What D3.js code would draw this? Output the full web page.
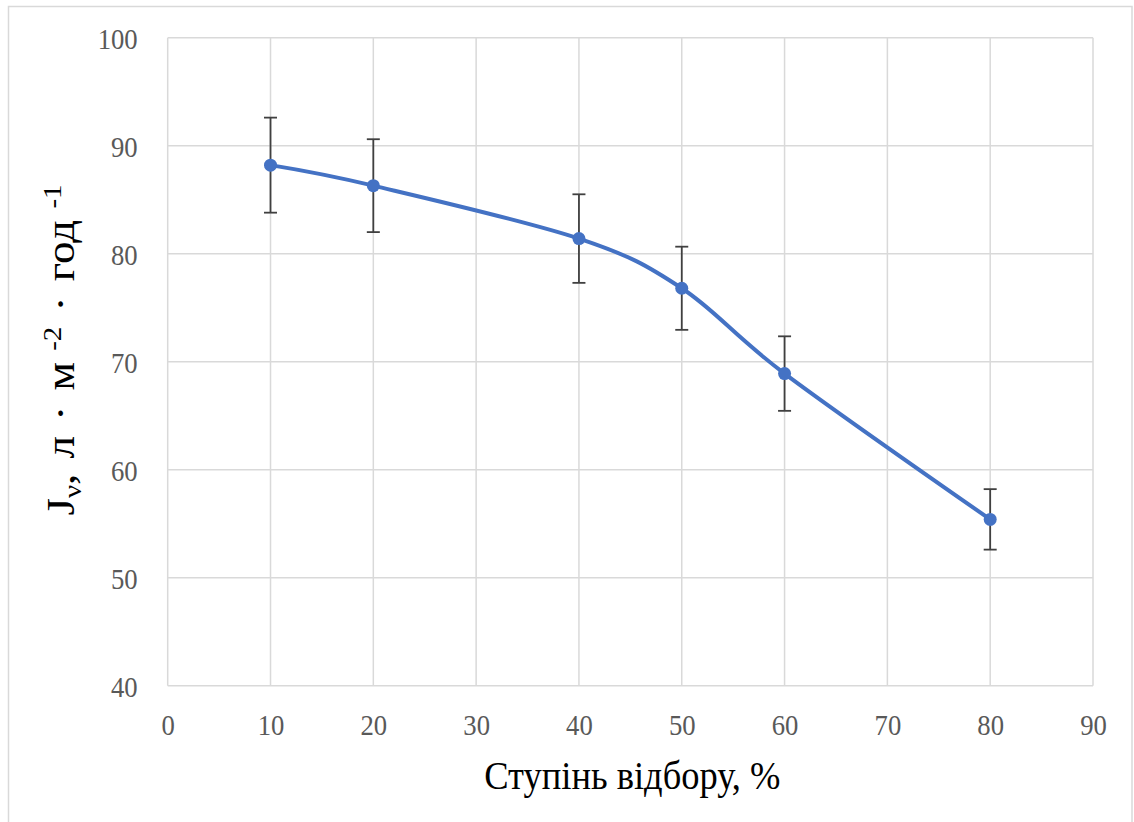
<!DOCTYPE html>
<html>
<head>
<meta charset="utf-8">
<script src="https://cdn.jsdelivr.net/npm/d3@7"></script>
<style>
  html, body { margin: 0; padding: 0; background: #fff; }
  svg { display: block; }
  text { font-family: "Liberation Serif", "Times New Roman", serif; }
</style>
</head>
<body>
<svg id="chart" width="1134" height="822"></svg>
<script>
// ---- data ----
const xValues = [10, 20, 40, 50, 60, 80];
const yValues = [88.2, 86.3, 81.4, 76.8, 68.9, 55.4];
const yErrors = [4.4, 4.3, 4.1, 3.85, 3.45, 2.8];
const xTicks = [0, 10, 20, 30, 40, 50, 60, 70, 80, 90];
const yTicks = [40, 50, 60, 70, 80, 90, 100];
const xTitle = "Ступінь відбору, %";

// ---- layout ----
const plot = { left: 167.7, right: 1093, top: 37.7, bottom: 685.7 };
const svg = d3.select("#chart");
const sx = 0.89; // horizontal text squeeze seen in reference

// outer chart border
svg.append("rect")
  .attr("x", 8.5).attr("y", 6.5).attr("width", 1123.5).attr("height", 840)
  .attr("fill", "none").attr("stroke", "#d9d9d9").attr("stroke-width", 1.5);

const x = d3.scaleLinear().domain([0, 90]).range([plot.left, plot.right]);
const y = d3.scaleLinear().domain([40, 100]).range([plot.bottom, plot.top]);

// gridlines
const grid = svg.append("g");
grid.selectAll("line.v").data(xTicks).join("line")
  .attr("x1", d => x(d)).attr("x2", d => x(d))
  .attr("y1", plot.top).attr("y2", plot.bottom)
  .attr("stroke", "#d9d9d9").attr("stroke-width", 1.5);
grid.selectAll("line.h").data(yTicks).join("line")
  .attr("x1", plot.left).attr("x2", plot.right)
  .attr("y1", d => y(d)).attr("y2", d => y(d))
  .attr("stroke", "#d9d9d9").attr("stroke-width", 1.5);

// axes (labels only)
const xAxis = d3.axisBottom(x).tickValues(xTicks).tickSize(0).tickPadding(0);
const gx = svg.append("g").attr("transform", `translate(0,${plot.bottom})`).call(xAxis);
gx.select(".domain").remove();
gx.selectAll("text")
  .attr("y", null).attr("dy", null)
  .attr("text-anchor", "middle")
  .attr("transform", `translate(0,49) scale(${sx},1)`)
  .attr("x", 0)
  .style("font-size", "30px").style("fill", "#595959")
  .style("font-family", '"Liberation Serif", "Times New Roman", serif');

const yAxis = d3.axisLeft(y).tickValues(yTicks).tickSize(0).tickPadding(0);
const gy = svg.append("g").attr("transform", `translate(${plot.left},0)`).call(yAxis);
gy.select(".domain").remove();
gy.selectAll("text")
  .attr("x", null).attr("dy", null).attr("y", null)
  .attr("text-anchor", "end")
  .attr("transform", `translate(-30,10.3) scale(${sx},1)`)
  .style("font-size", "30px").style("fill", "#595959")
  .style("font-family", '"Liberation Serif", "Times New Roman", serif');

// axis titles
svg.append("text")
  .attr("transform", `translate(${(plot.left + plot.right) / 2 + 2},789) scale(${sx},1)`)
  .attr("text-anchor", "middle")
  .style("font-size", "41px").style("fill", "#000")
  .text(xTitle);

const yt = svg.append("text")
  .attr("transform", `translate(74,350) rotate(-90) scale(1,${sx})`)
  .attr("text-anchor", "middle")
  .style("font-size", "45px").style("fill", "#000")
  .style("word-spacing", "4px");
yt.append("tspan").text("J");
yt.append("tspan").attr("dy", 8).style("font-size", "29px").text("ν");
yt.append("tspan").attr("dy", -8).text(",   л · м");
yt.append("tspan").attr("dy", -15).style("font-size", "29px").text(" -2");
yt.append("tspan").attr("dy", 15).text(" · год");
yt.append("tspan").attr("dy", -15).style("font-size", "29px").text(" -1");

// error bars
const pts = xValues.map((v, i) => ({ x: v, y: yValues[i], e: yErrors[i] }));
const eb = svg.append("g").attr("stroke", "#404040").attr("stroke-width", 1.8);
eb.selectAll("line.stem").data(pts).join("line")
  .attr("x1", d => x(d.x)).attr("x2", d => x(d.x))
  .attr("y1", d => y(d.y + d.e)).attr("y2", d => y(d.y - d.e));
eb.selectAll("line.top").data(pts).join("line")
  .attr("x1", d => x(d.x) - 6.5).attr("x2", d => x(d.x) + 6.5)
  .attr("y1", d => y(d.y + d.e)).attr("y2", d => y(d.y + d.e));
eb.selectAll("line.bot").data(pts).join("line")
  .attr("x1", d => x(d.x) - 6.5).attr("x2", d => x(d.x) + 6.5)
  .attr("y1", d => y(d.y - d.e)).attr("y2", d => y(d.y - d.e));

// smoothed line
const line = d3.line().x(d => x(d.x)).y(d => y(d.y)).curve(d3.curveCardinal.tension(0));
svg.append("path").datum(pts)
  .attr("d", line).attr("fill", "none")
  .attr("stroke", "#4472c4").attr("stroke-width", 4);

// markers
svg.selectAll("circle.m").data(pts).join("circle")
  .attr("cx", d => x(d.x)).attr("cy", d => y(d.y)).attr("r", 6.5)
  .attr("fill", "#4472c4");
</script>
</body>
</html>
